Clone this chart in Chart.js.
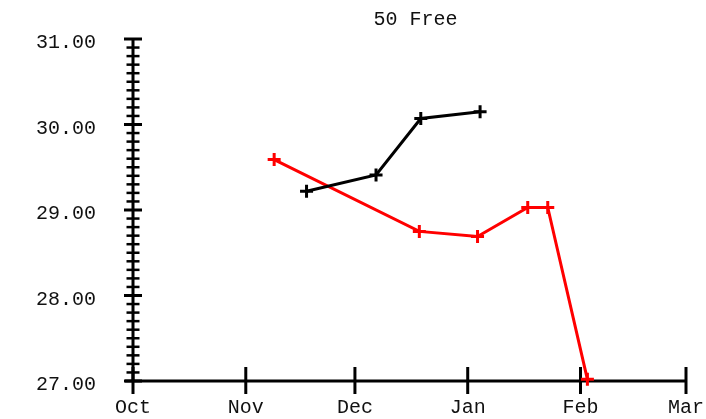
<!DOCTYPE html>
<html>
<head>
<meta charset="utf-8">
<script src="https://cdn.jsdelivr.net/npm/chart.js@4"></script>
<style>
html,body{margin:0;padding:0;background:#fff;}
#wrap{width:706px;height:419px;position:relative;}
</style>
</head>
<body>
<div id="wrap"><canvas id="c"></canvas></div>
<script>
// Month tick labels and their positions (days since Oct 1)
const monthLabels = ['Oct', 'Nov', 'Dec', 'Jan', 'Feb', 'Mar'];
const monthDays = [0, 31, 61, 92, 123, 152];

// Black series (day, time)
const blackDays = [47.7, 66.8, 79.1, 95.4];
const blackTimes = [29.22, 29.41, 30.07, 30.15];

// Red series (day, time)
const redDays = [38.8, 78.7, 94.7, 108.5, 114.0, 124.9];
const redTimes = [29.59, 28.75, 28.69, 29.03, 29.03, 27.02];

const yMin = 27, yMax = 31;
const titleText = '50 Free';

const FONT = 'Liberation Mono, Courier New, monospace';

function pts(xs, ys) { return xs.map((x, i) => ({ x: x, y: ys[i] })); }

const axesPlugin = {
  id: 'axesPlugin',
  beforeDatasetsDraw(chart) {
    const ctx = chart.ctx;
    const xs = chart.scales.x, ys = chart.scales.y;
    const x0 = xs.getPixelForValue(monthDays[0]);
    const yb = ys.getPixelForValue(yMin);
    const yt = ys.getPixelForValue(yMax);
    const xr = xs.getPixelForValue(monthDays[monthDays.length - 1]);
    ctx.save();
    ctx.strokeStyle = '#000';
    ctx.lineCap = 'butt';
    ctx.lineWidth = 3;
    ctx.beginPath();
    ctx.moveTo(x0, yt); ctx.lineTo(x0, yb);
    ctx.moveTo(x0 - 8, yb); ctx.lineTo(xr, yb);
    ctx.stroke();
    ys.ticks.forEach(t => {
      const v = t.value;
      const py = ys.getPixelForValue(v);
      const major = Math.abs(v - Math.round(v)) < 1e-6;
      ctx.lineWidth = major ? 3 : 2.5;
      const half = major ? 9 : 6.5;
      ctx.beginPath();
      ctx.moveTo(x0 - half, py); ctx.lineTo(x0 + half, py);
      ctx.stroke();
    });
    ctx.lineWidth = 3;
    monthDays.forEach(d => {
      const px = xs.getPixelForValue(d);
      ctx.beginPath();
      ctx.moveTo(px, yb - 14); ctx.lineTo(px, yb + 13);
      ctx.stroke();
    });
    ctx.restore();
  }
};

new Chart(document.getElementById('c'), {
  type: 'line',
  data: {
    datasets: [
      {
        data: pts(blackDays, blackTimes),
        borderColor: '#000',
        backgroundColor: '#000',
        borderWidth: 3,
        pointStyle: 'cross',
        pointRadius: 6.5,
        pointBorderWidth: 3,
        pointBorderColor: '#000',
        clip: false,
        tension: 0
      },
      {
        data: pts(redDays, redTimes),
        borderColor: '#ff0000',
        backgroundColor: '#ff0000',
        borderWidth: 3,
        pointStyle: 'cross',
        pointRadius: 6.5,
        pointBorderWidth: 3,
        pointBorderColor: '#ff0000',
        clip: false,
        tension: 0
      }
    ]
  },
  options: {
    responsive: true,
    maintainAspectRatio: false,
    animation: false,
    devicePixelRatio: 1,
    layout: { padding: { left: 0, right: 20, top: 0, bottom: 0 } },
    plugins: {
      legend: { display: false },
      tooltip: { enabled: false },
      title: {
        display: true,
        text: ' ' + titleText,
        fullSize: false,
        color: '#111',
        font: { family: FONT, size: 20, weight: 'normal' },
        padding: { top: 8, bottom: 7 }
      }
    },
    scales: {
      x: {
        type: 'linear',
        min: monthDays[0],
        max: monthDays[monthDays.length - 1],
        grid: { display: false, drawTicks: false },
        border: { display: false },
        afterBuildTicks: (scale) => { scale.ticks = monthDays.map(v => ({ value: v })); },
        afterFit: (scale) => { scale.height = 38; scale.paddingLeft = 0; scale.paddingRight = 0; },
        ticks: {
          autoSkip: false,
          maxRotation: 0,
          padding: 15,
          color: '#111',
          font: { family: FONT, size: 20 },
          callback: (v) => { const i = monthDays.indexOf(v); return i >= 0 ? monthLabels[i] : ''; }
        }
      },
      y: {
        type: 'linear',
        min: yMin,
        max: yMax,
        grid: { display: false, drawTicks: false },
        border: { display: false },
        afterFit: (scale) => { scale.width = 133; scale.paddingTop = 0; scale.paddingBottom = 0; },
        ticks: {
          stepSize: 0.1,
          autoSkip: false,
          padding: 37,
          labelOffset: 4,
          color: '#111',
          font: { family: FONT, size: 20 },
          callback: (v) => Math.abs(v - Math.round(v)) < 1e-6 ? Number(v).toFixed(2) : ''
        }
      }
    }
  },
  plugins: [axesPlugin]
});
</script>
</body>
</html>
